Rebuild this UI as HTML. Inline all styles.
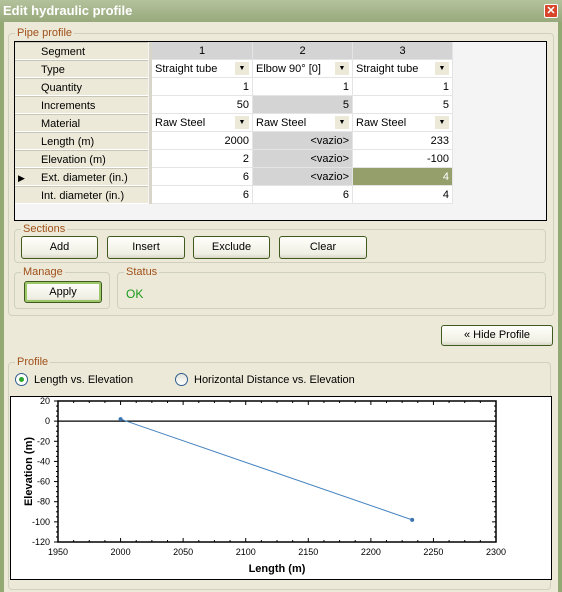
<!DOCTYPE html>
<html><head><meta charset="utf-8">
<style>
*{box-sizing:border-box}
body{margin:0;width:562px;height:592px;overflow:hidden;background:#ece9d8;font-family:"Liberation Sans",sans-serif;font-size:11px;color:#000;position:relative}
.a{position:absolute}
.grp{position:absolute;border:1px solid #d0d0bf;border-radius:4px}
.lg{position:absolute;top:-8px;left:6px;background:#ece9d8;color:#a0501a;padding:0 2px;font-size:11px;line-height:14px}
.btn{position:absolute;border:1px solid #3f5a1e;border-radius:3px;background:linear-gradient(#fffffb,#f0efe4 80%,#d8d6c6);text-align:center;line-height:20px;font-size:11px}
.cell{position:absolute;height:18px;line-height:18px;border-right:1px solid #e4e4e4;border-bottom:1px solid #e4e4e4;padding:0 3px;white-space:nowrap;overflow:hidden}
.rh{position:absolute;left:15px;width:133px;height:18px;line-height:18px;background:#ece9d8;border-bottom:1px solid #fff;border-top:1px solid #c8c6b6;padding-left:26px}
.dd{position:absolute;right:3px;top:2px;width:14px;height:13px;background:#ece9d8;font-size:7px;line-height:13px;text-align:center}
</style></head><body>
<div class="a" style="left:0;top:0;width:4px;height:592px;background:#93a974"></div>
<div class="a" style="right:0;top:0;width:4px;height:592px;background:#93a974"></div>
<div class="a" style="left:0;top:0;width:562px;height:22px;background:linear-gradient(#b4c29c,#98a97c);color:#fff;font-weight:bold;font-size:13px;line-height:22px;padding-left:3px">Edit hydraulic profile</div>
<div class="a" style="left:544px;top:4px;width:14px;height:14px;background:#d8452a;border:1px solid #fff;border-radius:2px;color:#fff;font-weight:bold;font-size:11px;line-height:12px;text-align:center">✕</div>

<div class="grp" style="left:8px;top:33px;width:546px;height:283px"><span class="lg">Pipe profile</span></div>
<div class="a" style="left:14px;top:41px;width:533px;height:180px;background:#f4f4f4;border:1px solid #000"></div>
<div class="a" style="left:149px;top:42px;width:3px;height:162px;background:#d8d6c8"></div>
<div id="grid"></div>

<div class="grp" style="left:14px;top:229px;width:532px;height:34px"><span class="lg">Sections</span></div>
<div class="btn" style="left:21px;top:236px;width:77px;height:23px">Add</div>
<div class="btn" style="left:107px;top:236px;width:78px;height:23px">Insert</div>
<div class="btn" style="left:193px;top:236px;width:77px;height:23px">Exclude</div>
<div class="btn" style="left:279px;top:236px;width:88px;height:23px">Clear</div>
<div class="grp" style="left:14px;top:272px;width:96px;height:37px"><span class="lg">Manage</span></div>
<div class="btn" style="left:24px;top:281px;width:78px;height:22px;box-shadow:inset 0 0 0 2px #9cc86a;line-height:20px">Apply</div>
<div class="grp" style="left:117px;top:272px;width:429px;height:37px"><span class="lg">Status</span></div>
<div class="a" style="left:126px;top:287px;color:#1a9a1a;font-size:12px">OK</div>
<div class="btn" style="left:441px;top:325px;width:112px;height:21px;line-height:19px">« Hide Profile</div>

<div class="grp" style="left:8px;top:362px;width:543px;height:228px"><span class="lg">Profile</span></div>
<div class="a" style="left:15px;top:373px;width:13px;height:13px;border:1px solid #2d5c8c;border-radius:50%;background:#fff"><div style="position:absolute;left:3px;top:3px;width:5px;height:5px;border-radius:50%;background:#2ca62c"></div></div>
<div class="a" style="left:34px;top:374px">Length vs. Elevation</div>
<div class="a" style="left:175px;top:373px;width:13px;height:13px;border:1px solid #2d5c8c;border-radius:50%;background:linear-gradient(#e4e4dc,#fff)"></div>
<div class="a" style="left:194px;top:374px">Horizontal Distance vs. Elevation</div>

<svg class="a" style="left:10px;top:396px" width="542" height="185" id="chart"></svg>

<script>
const rowLabels=["Segment","Type","Quantity","Increments","Material","Length (m)","Elevation (m)","Ext. diameter (in.)","Int. diameter (in.)"];
const colHeaders=["1","2","3"];
const rows=[
 [["Straight tube","d"],["Elbow 90° [0]","d"],["Straight tube","d"]],
 [["1"],["1"],["1"]],
 [["50"],["5","g"],["5"]],
 [["Raw Steel","d"],["Raw Steel","d"],["Raw Steel","d"]],
 [["2000"],["<vazio>","g"],["233"]],
 [["2"],["<vazio>","g"],["-100"]],
 [["6"],["<vazio>","g"],["4","s"]],
 [["6"],["6"],["4"]]
];
const g=document.getElementById('grid');
const colX=[152,253,353], colW=[101,100,100];
rowLabels.forEach((l,i)=>{
 const d=document.createElement('div');d.className='rh';d.style.top=(42+i*18)+'px';d.textContent=l;
 
 
 if(i==7){d.innerHTML='<span style="position:absolute;left:3px;font-size:9px">▶</span>'+l;}
 g.appendChild(d);
});
colHeaders.forEach((h,j)=>{
 const d=document.createElement('div');d.className='cell';
 d.style.cssText+=`left:${colX[j]}px;top:42px;width:${colW[j]}px;background:#d4d4d4;text-align:center`;
 d.textContent=h;
 
 
 g.appendChild(d);
});
rows.forEach((r,i)=>r.forEach((c,j)=>{
 const d=document.createElement('div');d.className='cell';
 let bg='#fff',col='#000',al='right';
 if(c[1]=='g')bg='#d4d4d4';
 if(c[1]=='s'){bg='#949f6c';col='#fff';}
 if(c[1]=='d')al='left';
 d.style.cssText+=`left:${colX[j]}px;top:${60+i*18}px;width:${colW[j]}px;background:${bg};color:${col};text-align:${al}`;
 d.textContent=c[0];
 if(c[1]=='d'){const s=document.createElement('div');s.className='dd';s.textContent='▼';d.appendChild(s);}
 
 
 g.appendChild(d);
}));

const xTicks=[1950,2000,2050,2100,2150,2200,2250,2300];
const yTicks=[20,0,-20,-40,-60,-80,-100,-120];
const lenData=[2000,2233];
const elevData=[2,-98];
const svg=document.getElementById('chart');
const L=48,R=486,T=5,B=146;
const xs=v=>L+(v-1950)/350*(R-L);
const ys=v=>T+(20-v)/140*(B-T);
let h=`<rect x="0.5" y="0.5" width="541" height="183" fill="#fff" stroke="#000"/>`;
h+=`<rect x="${L}" y="${T}" width="${R-L}" height="${B-T}" fill="none" stroke="#000" stroke-width="1.5"/>`;
h+=`<line x1="${L}" x2="${R}" y1="${ys(0)}" y2="${ys(0)}" stroke="#000" stroke-width="1.2"/>`;
for(let v=1950;v<=2300;v+=12.5){const x=xs(v);const m=(v%50==0)?4:2;h+=`<line x1="${x}" x2="${x}" y1="${B}" y2="${B-m}" stroke="#000"/><line x1="${x}" x2="${x}" y1="${T}" y2="${T+m}" stroke="#000"/>`;}
for(let v=-120;v<=20;v+=5){const y=ys(v);const m=(v%20==0)?4:2;h+=`<line x1="${L}" x2="${L-m}" y1="${y}" y2="${y}" stroke="#000"/><line x1="${R}" x2="${R-m}" y1="${y}" y2="${y}" stroke="#000"/>`;}
xTicks.forEach(v=>{h+=`<text x="${xs(v)}" y="${B+13}" font-size="9" text-anchor="middle" font-family="Liberation Sans">${v}</text>`;});
yTicks.forEach(v=>{h+=`<text x="${L-8}" y="${ys(v)+3}" font-size="9" text-anchor="end" font-family="Liberation Sans">${v}</text>`;});
h+=`<text x="${(L+R)/2}" y="176" font-size="11" font-weight="bold" text-anchor="middle" font-family="Liberation Sans">Length (m)</text>`;
h+=`<text transform="translate(22,${(T+B)/2}) rotate(-90)" font-size="11" font-weight="bold" text-anchor="middle" font-family="Liberation Sans">Elevation (m)</text>`;
svg.innerHTML=h;
const pl=document.createElementNS('http://www.w3.org/2000/svg','polyline');
pl.setAttribute('points',lenData.map((v,i)=>xs(v)+','+ys(elevData[i])).join(' '));
pl.setAttribute('fill','none');pl.setAttribute('stroke','#4a86c0');


svg.appendChild(pl);
lenData.forEach((v,i)=>{
 const c=document.createElementNS('http://www.w3.org/2000/svg','circle');
 c.setAttribute('cx',xs(v));c.setAttribute('cy',ys(elevData[i]));c.setAttribute('r',2);c.setAttribute('fill','#3a74b0');
 
 
 svg.appendChild(c);
});
</script>
</body></html>
